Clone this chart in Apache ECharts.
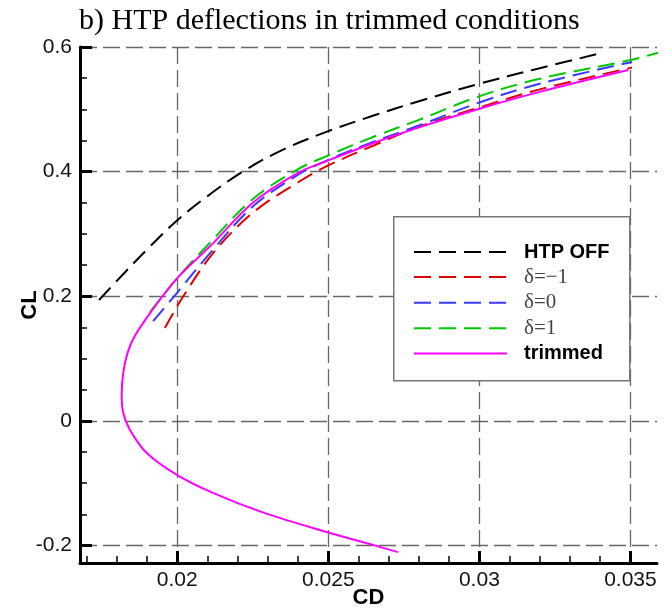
<!DOCTYPE html>
<html><head><meta charset="utf-8">
<script src="https://cdn.jsdelivr.net/npm/echarts@6/dist/echarts.min.js"></script>
<style>html,body{margin:0;padding:0;background:#fff}#c{width:672px;height:610px}</style>
</head><body><div id="c"></div>
<script>
const titleText = 'b) HTP deflections in trimmed conditions';
const xName = 'CD';
const yName = 'CL';
const seriesNames = ['HTP OFF', 'δ=−1', 'δ=0', 'δ=1', 'trimmed'];

const htpOffCD = [0.01741, 0.0182, 0.0190, 0.0200, 0.0209, 0.0221, 0.0234, 0.0250, 0.0265, 0.0280, 0.0300, 0.0320, 0.0341];
const htpOffCL = [0.194, 0.235, 0.275, 0.322, 0.357, 0.398, 0.433, 0.465, 0.490, 0.513, 0.541, 0.566, 0.591];

const dM1CD = [0.01959, 0.0202, 0.0212, 0.0225, 0.0240, 0.0250, 0.0265, 0.0280, 0.0300, 0.0320, 0.03505];
const dM1CL = [0.149, 0.200, 0.270, 0.334, 0.383, 0.410, 0.442, 0.472, 0.503, 0.532, 0.567];

const d0CD = [0.0192, 0.0200, 0.0211, 0.0225, 0.0240, 0.0250, 0.0265, 0.0280, 0.0300, 0.0320, 0.03505];
const d0CL = [0.160, 0.206, 0.270, 0.344, 0.395, 0.419, 0.448, 0.474, 0.511, 0.541, 0.576];

const dP1CD = [0.0191, 0.0200, 0.0211, 0.0225, 0.0240, 0.0250, 0.0265, 0.0280, 0.0300, 0.0320, 0.0350, 0.0360];
const dP1CL = [0.175, 0.229, 0.287, 0.356, 0.404, 0.426, 0.456, 0.483, 0.521, 0.549, 0.579, 0.592];

const trimCD = [0.03493, 0.0320, 0.0300, 0.0280, 0.0265, 0.0250, 0.0240, 0.0225, 0.0211, 0.0200, 0.0191, 0.01858, 0.01836, 0.01822, 0.01816, 0.01820, 0.01843, 0.0190, 0.0200, 0.0212, 0.0229, 0.0250, 0.0264, 0.02731];
const trimCL = [0.563, 0.528, 0.501, 0.471, 0.446, 0.418, 0.398, 0.350, 0.281, 0.229, 0.173, 0.135, 0.110, 0.080, 0.044, 0.015, -0.014, -0.052, -0.087, -0.116, -0.148, -0.179, -0.198, -0.2105];

const xMajorTicks = [0.02, 0.025, 0.03, 0.035];
const xMinorTicks = [0.017, 0.018, 0.019, 0.021, 0.022, 0.023, 0.024, 0.026, 0.027, 0.028, 0.029, 0.031, 0.032, 0.033, 0.034];
const yMajorTicks = [-0.2, 0, 0.2, 0.4, 0.6];
const yMinorTicks = [-0.15, -0.1, -0.05, 0.05, 0.1, 0.15, 0.25, 0.3, 0.35, 0.45, 0.5, 0.55];

const X_MIN = 0.01678, X_MAX = 0.03588, Y_MIN = -0.228, Y_MAX = 0.6;

const pair = (xs, ys) => xs.map((x, i) => [x, ys[i]]);
const seriesData = [
  pair(htpOffCD, htpOffCL),
  pair(dM1CD, dM1CL),
  pair(d0CD, d0CL),
  pair(dP1CD, dP1CL),
  pair(trimCD, trimCL)
];
const colors = ['#000000', '#e00000', '#3a3aff', '#00c800', '#ff00ff'];
const dashed = [true, true, true, true, false];

const gridDash = { color: '#666', width: 1.3, type: [17, 6] };

const chart = echarts.init(document.getElementById('c'), null, { renderer: 'canvas' });
chart.setOption({
  animation: false,
  backgroundColor: '#fff',
  title: {
    text: titleText, left: 74, top: 1,
    textStyle: { fontFamily: 'Liberation Serif', fontSize: 30, fontWeight: 'normal', color: '#000' }
  },
  grid: { left: 80, right: 15, top: 47, bottom: 47, containLabel: false, outerBoundsMode: 'none' },
  graphic: [{
    type: 'rect', left: 393, top: 216, z: 50,
    shape: { width: 236, height: 164 },
    style: { fill: '#fff', stroke: '#777', lineWidth: 1.5 }
  }],
  legend: {
    orient: 'vertical', left: 413, top: 242, z: 60, padding: 0,
    itemWidth: 93, itemHeight: 14, itemGap: 4.6, selectedMode: false,
    itemStyle: { color: 'rgba(0,0,0,0)', borderWidth: 0, opacity: 0 },
    textStyle: { padding: [0, 0, 0, 12], lineHeight: 20, fontSize: 20, color: '#000' },
    data: seriesNames.map((n, i) => ({
      name: n,
      textStyle: (i === 0 || i === 4)
        ? { fontFamily: 'Liberation Sans', fontWeight: 'bold', fontSize: 20, color: '#000' }
        : { fontFamily: 'Liberation Serif', fontWeight: 'normal', fontSize: 21, color: '#444' }
    }))
  },
  xAxis: [{
    type: 'value', min: X_MIN, max: X_MAX, position: 'bottom',
    name: xName, nameLocation: 'middle', nameGap: 24, nameMoveOverlap: false,
    nameTextStyle: { fontFamily: 'Liberation Sans', fontWeight: 'bold', fontSize: 22, color: '#000' },
    axisLine: { onZero: false, lineStyle: { color: '#000', width: 3 } },
    axisTick: { inside: true, length: 12, customValues: xMajorTicks, lineStyle: { color: '#000', width: 3 } },
    axisLabel: { customValues: xMajorTicks, margin: 7, fontFamily: 'Liberation Sans', fontSize: 21, color: '#111' },
    splitLine: { show: true, lineStyle: gridDash }
  }, {
    type: 'value', min: X_MIN, max: X_MAX, position: 'bottom',
    axisLine: { show: false, onZero: false },
    axisTick: { inside: true, length: 7, customValues: xMinorTicks, lineStyle: { color: '#000', width: 1.5 } },
    axisLabel: { show: false },
    splitLine: { show: false }
  }],
  yAxis: [{
    type: 'value', min: Y_MIN, max: Y_MAX, position: 'left',
    name: yName, nameLocation: 'middle', nameGap: 39, nameRotate: 90, nameMoveOverlap: false,
    nameTextStyle: { fontFamily: 'Liberation Sans', fontWeight: 'bold', fontSize: 22, color: '#000' },
    axisLine: { onZero: false, lineStyle: { color: '#000', width: 3 } },
    axisTick: { inside: true, length: 12, customValues: yMajorTicks, lineStyle: { color: '#000', width: 3 } },
    axisLabel: { customValues: yMajorTicks, margin: 8, fontFamily: 'Liberation Sans', fontSize: 21, color: '#111' },
    splitLine: { show: true, lineStyle: gridDash }
  }, {
    type: 'value', min: Y_MIN, max: Y_MAX, position: 'left', offset: 0,
    axisLine: { show: false, onZero: false },
    axisTick: { inside: true, length: 7, customValues: yMinorTicks, lineStyle: { color: '#000', width: 1.5 } },
    axisLabel: { show: false },
    splitLine: { show: false }
  }],
  series: seriesNames.map((n, i) => ({
    name: n, type: 'line', xAxisIndex: 0, yAxisIndex: 0,
    data: seriesData[i], symbol: 'none', smooth: 0.35, clip: true, z: 3,
    lineStyle: { color: colors[i], width: 2, type: dashed[i] ? [17, 8] : 'solid' },
    itemStyle: { color: colors[i] }
  }))
});
</script>
</body></html>
